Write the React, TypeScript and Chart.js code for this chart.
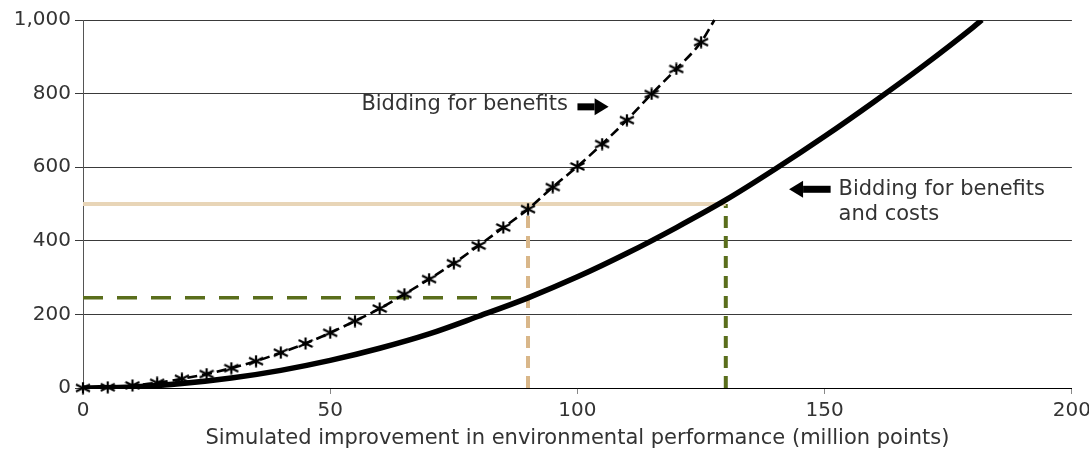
import { useEffect, useRef } from 'react';
import { Chart, registerables } from 'chart.js';

Chart.register(...registerables);

// Bidding for benefits and costs (solid curve)
const costX = [0, 10, 20, 30, 40, 50, 60, 70, 80, 90, 100, 110, 120, 130, 140, 150, 160, 170, 180, 181.8];
const costY = [0, 3, 12, 27, 48, 75, 108, 147, 195, 245, 302, 366, 436, 511, 595, 684, 778, 876, 980, 1000];

// Bidding for benefits (dashed curve with markers)
const benefitX = [0, 5, 10, 15, 20, 25, 30, 35, 40, 45, 50, 55, 60, 65, 70, 75, 80, 85, 90, 95, 100, 105, 110, 115, 120, 125, 127.7];
const benefitY = [0, 2, 7, 14, 25, 38, 54, 73, 96, 121, 150, 182, 216, 255, 296, 339, 387, 436, 486, 546, 602, 663, 728, 799, 867, 940, 1000];

// Reference lines
const budgetLevel = 500;
const benefitOnlyAtBudget = 90;
const benefitCostAtBudget = 130;
const costCurveAt90 = 245;

const xTickValues = [0, 50, 100, 150, 200];
const yTickValues = [0, 200, 400, 600, 800, 1000];

const labelBenefits = 'Bidding for benefits';
const labelCostsLines = ['Bidding for benefits', 'and costs'];
const xTitle = 'Simulated improvement in environmental performance (million points)';

const FONT = '"DejaVu Sans", sans-serif';
const TEXT = '#333333';

function pts(xs: number[], ys: number[]) {
  return xs.map((x, i) => ({ x, y: ys[i] }));
}

function makeAsterisk(): HTMLCanvasElement {
  const c = document.createElement('canvas');
  c.width = 16;
  c.height = 13;
  const g = c.getContext('2d')!;
  g.strokeStyle = '#000';
  g.lineWidth = 2.2;
  g.lineCap = 'butt';
  g.beginPath();
  g.moveTo(8, 0.5); g.lineTo(8, 12.5);
  g.moveTo(1, 3); g.lineTo(15, 10);
  g.moveTo(1, 10); g.lineTo(15, 3);
  g.stroke();
  return c;
}

function drawArrow(ctx: CanvasRenderingContext2D, tail: number, tip: number, y: number) {
  const dir = tip > tail ? 1 : -1;
  const head = 14;
  ctx.save();
  ctx.fillStyle = '#000';
  ctx.fillRect(Math.min(tail, tip - dir * head), y - 3.5, Math.abs(tip - dir * head - tail), 7);
  ctx.beginPath();
  ctx.moveTo(tip, y);
  ctx.lineTo(tip - dir * head, y - 8.5);
  ctx.lineTo(tip - dir * head, y + 8.5);
  ctx.closePath();
  ctx.fill();
  ctx.restore();
}

const annotationPlugin = {
  id: 'annot',
  afterDatasetsDraw(chart: any) {
    const { ctx, scales } = chart;
    const xs = scales.x;
    const ys = scales.y;
    ctx.save();
    ctx.fillStyle = TEXT;
    ctx.font = `21px ${FONT}`;
    ctx.textBaseline = 'middle';
    ctx.textAlign = 'left';
    ctx.fillText(labelBenefits, xs.getPixelForValue(56.3), ys.getPixelForValue(769));
    drawArrow(ctx, xs.getPixelForValue(100), xs.getPixelForValue(106.3), ys.getPixelForValue(764));
    drawArrow(ctx, xs.getPixelForValue(151.2), xs.getPixelForValue(142.8), ys.getPixelForValue(540));
    ctx.fillText(labelCostsLines[0], xs.getPixelForValue(152.8), ys.getPixelForValue(540));
    ctx.fillText(labelCostsLines[1], xs.getPixelForValue(152.8), ys.getPixelForValue(470));
    ctx.restore();
  },
};

export default function App() {
  const ref = useRef<HTMLCanvasElement | null>(null);
  useEffect(() => {
    if (!ref.current) return;
    const star = makeAsterisk();
    const chart = new Chart(ref.current, {
      type: 'line',
      data: {
        datasets: [
          {
            label: 'Bidding for benefits and costs',
            data: pts(costX, costY),
            borderColor: '#000',
            borderWidth: 5.5,
            pointRadius: 0,
            cubicInterpolationMode: 'monotone',
            fill: false,
          },
          {
            label: 'Bidding for benefits',
            data: pts(benefitX, benefitY),
            borderColor: '#000',
            borderWidth: 2.6,
            borderDash: [10, 5],
            pointStyle: star as any,
            pointRadius: (c: any) => (c.dataIndex === benefitX.length - 1 ? 0 : 6),
            cubicInterpolationMode: 'monotone',
            clip: false as any,
            fill: false,
          },
          {
            label: 'budget',
            data: [{ x: 0, y: budgetLevel }, { x: benefitCostAtBudget, y: budgetLevel }],
            borderColor: '#e8d5b7',
            borderWidth: 4,
            pointRadius: 0,
            fill: false,
          },
          {
            label: 'benefit vertical',
            data: [{ x: benefitOnlyAtBudget, y: 0 }, { x: benefitOnlyAtBudget, y: budgetLevel }],
            borderColor: '#d9b78a',
            borderWidth: 4,
            borderDash: [12, 8],
            pointRadius: 0,
            fill: false,
          },
          {
            label: 'cost horizontal',
            data: [{ x: 0, y: costCurveAt90 }, { x: benefitOnlyAtBudget, y: costCurveAt90 }],
            borderColor: '#5a6e1c',
            borderWidth: 3.5,
            borderDash: [20, 14],
            pointRadius: 0,
            fill: false,
          },
          {
            label: 'cost vertical',
            data: [{ x: benefitCostAtBudget, y: 0 }, { x: benefitCostAtBudget, y: budgetLevel }],
            borderColor: '#5a6e1c',
            borderWidth: 4,
            borderDash: [12, 8],
            pointRadius: 0,
            fill: false,
          },
        ],
      },
      options: {
        animation: false,
        responsive: true,
        maintainAspectRatio: false,
        layout: { padding: { top: 20, right: 0, left: 0, bottom: 0 } },
        plugins: { legend: { display: false }, tooltip: { enabled: false } },
        scales: {
          x: {
            type: 'linear',
            min: 0,
            max: 200,
            afterBuildTicks: (s: any) => { s.ticks = xTickValues.map((v) => ({ value: v })); },
            afterFit: (s: any) => { s.height = 65; },
            ticks: { color: TEXT, font: { family: FONT, size: 20 }, padding: 5, maxRotation: 0 },
            grid: { drawOnChartArea: false, drawTicks: true, tickLength: 6, color: '#888' },
            border: { display: true, color: '#000', width: 1 },
            title: {
              display: true,
              text: xTitle,
              color: TEXT,
              font: { family: FONT, size: 21 },
              padding: { top: 0, bottom: 2 },
            },
          },
          y: {
            type: 'linear',
            min: 0,
            max: 1000,
            afterBuildTicks: (s: any) => { s.ticks = yTickValues.map((v) => ({ value: v })); },
            afterFit: (s: any) => { s.width = 83; },
            ticks: {
              color: TEXT,
              font: { family: FONT, size: 20 },
              padding: 4,
              callback: (v: any) => Number(v).toLocaleString('en-US'),
            },
            grid: { color: '#3a3a3a', lineWidth: 1, tickLength: 8 },
            border: { display: true, color: '#555', width: 1 },
          },
        },
      },
      plugins: [annotationPlugin],
    });
    return () => chart.destroy();
  }, []);
  return (
    <div style={{ position: 'fixed', left: 0, top: 0, width: 1096, height: 453, background: '#fff' }}>
      <canvas ref={ref} />
    </div>
  );
}
